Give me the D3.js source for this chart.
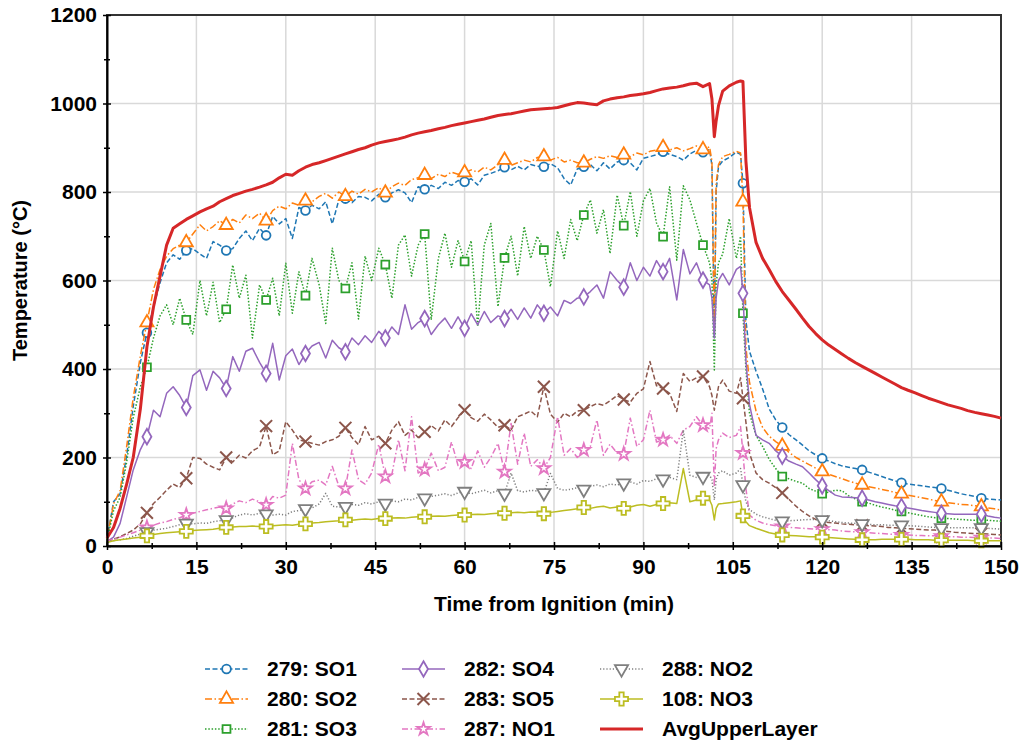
<!DOCTYPE html>
<html>
<head>
<meta charset="utf-8">
<script src="https://cdn.jsdelivr.net/npm/d3@7"></script>
<style>
  body { margin: 0; background: #fff; }
  text { font-family: "Liberation Sans", Arial, sans-serif; font-weight: bold; fill: #000; }
</style>
</head>
<body>
<div id="chart"></div>
<script>
// sample times (min)
var timeMin = [
  0,1.1,2.2,3.3,4.4,5.6,6.7,7.8,8.9,
  10,11.1,12.2,13.3,14.4,15.6,16.7,17.8,18.9,
  20,21.1,22.2,23.3,24.4,25.6,26.7,27.8,28.9,
  30,31.1,32.2,33.3,34.4,35.6,36.7,37.8,38.9,
  40,41.1,42.2,43.3,44.4,45.6,46.7,47.8,48.9,
  50,51.1,52.2,53.3,54.4,55.6,56.7,57.8,58.9,
  60,61.1,62.2,63.3,64.4,65.6,66.7,67.8,68.9,
  70,71.1,72.2,73.3,74.4,75.6,76.7,77.8,78.9,
  80,81.1,82.2,83.3,84.4,85.6,86.7,87.8,88.9,
  90,91.1,92.2,93.3,94.4,95.6,96.7,97.8,98.9,
  100,101.1,101.5,101.9,102.2,102.6,103.3,104.4,105.6,106.3,106.7,107.2,107.8,108.9,
  110,111.1,112.2,113.3,114.4,115.6,116.7,117.8,118.9,
  120,121.1,122.2,123.3,124.4,125.6,126.7,127.8,128.9,
  130,131.1,132.2,133.3,134.4,135.6,136.7,137.8,138.9,
  140,141.1,142.2,143.3,144.4,145.6,146.7,147.8,148.9,
  150
];

// times that carry a marker
var markerTimes = [6.7,13.3,20,26.7,33.3,40,46.7,53.3,60,66.7,73.3,80,86.7,93.3,100,106.7,113.3,120,126.7,133.3,140,146.7];

var so1 = [
  15,100,118,205,315,415,482,540,595,
  640,658,648,668,672,660,650,688,680,
  668,672,695,712,690,718,702,745,728,
  740,695,765,758,770,762,778,728,782,
  785,776,790,788,780,795,788,798,805,
  798,776,812,806,815,808,822,815,826,
  823,830,816,838,842,848,856,850,858,
  850,862,858,857,864,855,830,816,852,
  857,862,848,866,852,868,872,866,850,
  876,880,884,891,885,880,872,886,894,
  890,896,860,470,800,858,870,878,890,885,820,510,440,395,
  355,310,285,268,252,240,228,215,206,
  198,192,186,181,178,175,172,167,162,
  157,152,147,143,140,138,136,134,132,
  130,126,122,118,115,112,108,106,105,
  104
];
var so2 = [
  15,95,125,225,335,430,505,580,625,
  655,672,680,686,705,726,712,722,735,
  725,738,730,748,740,752,735,758,768,
  762,775,770,780,778,790,797,786,800,
  790,802,795,806,800,810,798,812,820,
  815,828,832,838,830,840,835,845,840,
  844,850,845,856,850,862,872,860,866,
  872,868,878,880,872,878,868,872,866,
  866,874,880,876,882,878,884,880,888,
  884,892,895,901,895,900,893,898,904,
  896,902,870,480,820,862,880,885,892,888,778,450,370,305,
  268,248,236,226,212,200,192,184,176,
  168,162,157,152,147,142,138,134,131,
  128,125,121,118,115,112,109,106,103,
  100,98,96,94,93,91,89,86,84,
  81
];
var so3 = [
  12,80,110,190,290,360,404,470,520,
  545,500,560,511,478,600,520,596,505,
  535,635,560,612,470,590,556,605,520,
  639,526,620,566,650,590,503,673,600,
  582,640,513,655,600,673,636,560,680,
  703,610,680,705,511,650,707,630,690,
  643,690,496,680,729,541,651,700,610,
  722,650,700,669,586,712,650,738,690,
  748,782,707,760,661,793,724,801,700,
  780,808,730,699,812,646,814,782,730,
  680,640,600,398,590,640,660,740,650,700,526,400,300,250,
  225,196,175,157,152,146,142,130,124,
  118,122,126,125,114,106,100,97,92,
  88,85,81,78,75,72,69,66,64,
  63,62,61,60,59,58,60,58,57,
  56
];
var so4 = [
  10,20,51,111,172,218,247,307,292,
  345,360,340,313,385,398,352,395,380,
  356,428,395,440,447,415,390,458,375,
  430,445,410,435,452,460,425,465,448,
  439,470,455,475,460,485,470,495,478,
  545,490,505,514,478,500,515,492,518,
  492,525,500,530,505,520,514,535,512,
  538,515,545,526,540,520,555,548,560,
  563,575,590,560,620,600,585,640,600,
  630,610,645,620,650,556,670,615,640,
  601,590,560,470,560,600,616,590,625,632,571,420,320,250,
  240,232,215,203,192,185,179,165,150,
  136,125,115,111,110,109,108,104,100,
  97,94,91,89,86,83,80,78,76,
  74,73,72,72,72,72,72,68,65,
  63
];
var so5 = [
  12,15,21,28,36,50,75,96,110,
  126,140,132,153,200,198,185,178,172,
  200,190,205,199,215,224,271,206,215,
  281,262,240,236,232,228,236,240,248,
  267,245,229,270,240,248,232,262,281,
  250,262,245,258,272,260,285,270,290,
  307,290,282,298,285,268,273,262,292,
  298,305,292,360,298,280,300,292,305,
  307,315,322,318,328,340,331,325,345,
  355,417,362,356,345,304,390,372,380,
  383,360,340,307,330,360,375,350,345,380,334,280,210,165,
  150,142,132,120,106,90,78,68,60,
  55,53,52,50,49,48,47,46,45,
  44,42,41,40,39,38,37,36,36,
  35,33,31,30,29,28,28,27,26,
  25
];
var no1 = [
  12,15,20,25,30,36,42,47,52,
  55,60,64,70,74,78,82,85,88,
  85,95,102,98,106,100,93,112,108,
  115,232,150,130,145,149,138,180,135,
  130,217,150,140,165,230,157,162,240,
  170,292,165,173,210,170,178,235,182,
  190,175,215,178,200,232,168,277,185,
  255,180,195,176,200,292,205,220,200,
  217,225,285,205,230,210,208,289,225,
  240,307,235,240,250,232,262,270,292,
  273,265,300,134,220,240,255,245,250,270,210,130,70,58,
  52,48,46,44,42,41,40,39,38,
  38,37,36,34,33,32,31,30,29,
  28,27,26,25,25,24,24,23,23,
  22,21,21,20,20,19,19,18,18,
  17
];
var no2 = [
  10,12,14,17,22,27,32,36,38,
  40,44,48,51,50,52,51,55,57,
  59,64,70,73,70,74,72,70,72,
  70,78,80,84,86,95,119,90,88,
  89,94,92,98,95,100,96,102,100,
  106,104,110,108,112,115,118,114,120,
  123,118,122,126,120,125,119,165,125,
  122,126,124,120,164,130,126,128,132,
  128,135,138,134,140,138,142,145,140,
  148,146,152,151,155,150,262,160,155,
  157,160,150,104,150,165,170,160,165,175,138,100,82,72,
  66,62,58,56,57,58,59,60,60,
  59,57,55,53,52,51,50,49,48,
  48,47,47,47,46,45,44,43,42,
  41,41,41,41,41,41,41,40,39,
  38
];
var no3 = [
  8,12,14,16,18,20,23,26,28,
  30,31,32,33,35,36,37,38,40,
  42,43,44,44,45,44,44,46,47,
  48,47,49,50,52,53,55,56,57,
  59,58,60,61,60,62,62,63,64,
  63,65,66,66,67,68,67,69,70,
  70,71,72,71,73,74,74,75,76,
  75,77,76,73,76,78,80,82,84,
  87,85,88,90,86,88,85,88,92,
  94,90,94,96,98,96,175,100,104,
  108,104,92,59,85,95,96,98,100,102,68,55,46,40,
  35,30,27,25,24,23,22,21,21,
  20,19,18,17,16,15,14,14,14,
  15,15,15,15,15,14,14,14,13,
  13,13,13,13,13,12,12,12,12,
  12
];
var avgUpper = [
  18,42,85,140,200,310,450,540,610,
  680,718,728,738,746,755,762,768,778,
  785,792,797,802,806,811,816,822,832,
  840,838,848,856,862,866,871,876,881,
  886,891,896,900,906,911,914,917,920,
  924,929,933,936,939,943,946,950,953,
  956,959,962,965,969,973,975,977,980,
  983,986,987,988,989,991,995,999,1002,
  1001,999,997,1006,1010,1013,1015,1018,1020,
  1022,1025,1029,1033,1035,1037,1040,1044,1046,
  1038,1045,1010,925,960,995,1028,1040,1048,1051,1050,870,765,686,
  650,625,598,575,556,535,515,496,480,
  466,454,444,434,424,414,406,398,390,
  382,374,366,358,352,346,340,334,329,
  324,319,315,311,306,302,299,296,293,
  289
];

var seriesNames = ["279: SO1","280: SO2","281: SO3","282: SO4","283: SO5","287: NO1","288: NO2","108: NO3","AvgUpperLayer"];
var xTicks = [0,15,30,45,60,75,90,105,120,135,150];
var yTicks = [0,200,400,600,800,1000,1200];

// drawing styles per series
var styles = [
  { values: so1, color: "#1f77b4", dash: "5,2.5", width: 1.5, symbol: d3.symbolCircle, size: 60 },
  { values: so2, color: "#ff7f0e", dash: "7,2.5,1.5,2.5", width: 1.5, symbol: d3.symbolTriangle, size: 75 },
  { values: so3, color: "#2ca02c", dash: "1.5,1.8", width: 1.5, symbol: d3.symbolSquare, size: 62 },
  { values: so4, color: "#9467bd", dash: null, width: 1.5, symbol: d3.symbolDiamond, size: 70 },
  { values: so5, color: "#8c564b", dash: "5,2.5", width: 1.5, symbol: d3.symbolTimes, size: 95 },
  { values: no1, color: "#e377c2", dash: "6,2.5,1.5,2.5", width: 1.5, symbol: d3.symbolStar, size: 50 },
  { values: no2, color: "#7f7f7f", dash: "1.2,2", width: 1.5, symbol: d3.symbolTriangle, size: 75, flip: true },
  { values: no3, color: "#bcbd22", dash: null, width: 1.5, symbol: d3.symbolCross, size: 95 },
  { values: avgUpper, color: "#d62728", dash: null, width: 3, symbol: null }
];

var margin = { top: 15, right: 21, bottom: 200, left: 107 };
var width = 894, height = 531;

var svg = d3.select("#chart").append("svg")
  .attr("width", 1022)
  .attr("height", 746)
  .append("g")
  .attr("transform", "translate(" + margin.left + "," + margin.top + ")");

var xScale = d3.scaleLinear().domain([0, 150]).range([0, width]);
var yScale = d3.scaleLinear().domain([0, 1200]).range([height, 0]);

// grid
svg.append("g").selectAll("line")
  .data(xTicks.slice(1, -1))
  .enter().append("line")
  .attr("x1", function(d) { return xScale(d); })
  .attr("x2", function(d) { return xScale(d); })
  .attr("y1", 0).attr("y2", height)
  .attr("stroke", "#d9d9d9").attr("stroke-width", 1.5);
svg.append("g").selectAll("line")
  .data(yTicks.slice(1, -1))
  .enter().append("line")
  .attr("y1", function(d) { return yScale(d); })
  .attr("y2", function(d) { return yScale(d); })
  .attr("x1", 0).attr("x2", width)
  .attr("stroke", "#d9d9d9").attr("stroke-width", 1.5);

// frame
svg.append("rect")
  .attr("width", width).attr("height", height)
  .attr("fill", "none").attr("stroke", "#333").attr("stroke-width", 2);

// series
var line = d3.line()
  .x(function(d, i) { return xScale(timeMin[i]); })
  .y(function(d) { return yScale(d); });

styles.forEach(function(s) {
  svg.append("path")
    .datum(s.values)
    .attr("fill", "none")
    .attr("stroke", s.color)
    .attr("stroke-width", s.width)
    .attr("stroke-dasharray", s.dash)
    .attr("stroke-linejoin", "round")
    .attr("d", line);

  if (!s.symbol) return;
  var pts = [];
  s.values.forEach(function(v, i) {
    if (markerTimes.indexOf(timeMin[i]) >= 0) pts.push({ t: timeMin[i], v: v });
  });
  svg.append("g").selectAll("path")
    .data(pts)
    .enter().append("path")
    .attr("d", d3.symbol().type(s.symbol).size(s.size))
    .attr("transform", function(d) {
      return "translate(" + xScale(d.t) + "," + yScale(d.v) + ")" + (s.flip ? " rotate(180)" : "");
    })
    .attr("fill", s.symbol === d3.symbolTimes ? "none" : "#fff")
    .attr("stroke", s.color)
    .attr("stroke-width", s.symbol === d3.symbolTimes ? 2 : 1.8);
});

// axes
var xAxis = svg.append("g")
  .attr("transform", "translate(0," + height + ")")
  .call(d3.axisBottom(xScale).tickValues(xTicks).tickSize(4).tickSizeOuter(0).tickPadding(9));
var yAxis = svg.append("g")
  .call(d3.axisLeft(yScale).tickValues(yTicks).tickFormat(d3.format("d")).tickSize(4).tickSizeOuter(0).tickPadding(6));

[xAxis, yAxis].forEach(function(a) {
  a.select(".domain").attr("stroke", "#000").attr("stroke-width", 2);
  a.selectAll("text").style("font-size", "21px").style("font-family", "'Liberation Sans', Arial, sans-serif").style("font-weight", "bold").attr("fill", "#000");
});
xAxis.selectAll(".tick line").attr("y1", -4).attr("y2", 4).attr("stroke-width", 1.5);
yAxis.selectAll(".tick line").attr("x1", 4).attr("x2", -4).attr("stroke-width", 1.5);

// minor ticks
svg.append("g")
  .attr("transform", "translate(0," + height + ")")
  .call(d3.axisBottom(xScale).tickValues(d3.range(7.5, 150, 15)).tickFormat("").tickSize(3).tickSizeOuter(0))
  .call(function(g) {
    g.select(".domain").remove();
    g.selectAll(".tick line").attr("y1", -3).attr("y2", 3).attr("stroke-width", 1.5);
  });
svg.append("g")
  .call(d3.axisLeft(yScale).tickValues(d3.range(100, 1200, 200)).tickFormat("").tickSize(3).tickSizeOuter(0))
  .call(function(g) {
    g.select(".domain").remove();
    g.selectAll(".tick line").attr("x1", 3).attr("x2", -3).attr("stroke-width", 1.5);
  });

// axis titles
svg.append("text")
  .attr("x", width / 2)
  .attr("y", height + 65)
  .style("text-anchor", "middle")
  .style("font-size", "21px")
  .text("Time from Ignition (min)");

svg.append("text")
  .attr("transform", "rotate(-90)")
  .attr("x", -height / 2)
  .attr("y", -80)
  .style("text-anchor", "middle")
  .style("font-size", "20px")
  .text("Temperature (°C)");

// legend
var legendCols = [205, 402, 600];
var legendRows = [669, 699, 729];
var legend = d3.select("svg").append("g");
styles.forEach(function(s, i) {
  var lx = legendCols[Math.floor(i / 3)];
  var ly = legendRows[i % 3];
  var g = legend.append("g").attr("transform", "translate(" + lx + "," + ly + ")");
  g.append("line")
    .attr("x1", 0).attr("x2", 43)
    .attr("stroke", s.color)
    .attr("stroke-width", s.width)
    .attr("stroke-dasharray", s.dash);
  if (s.symbol) {
    g.append("path")
      .attr("d", d3.symbol().type(s.symbol).size(s.size))
      .attr("transform", "translate(21.5,0)" + (s.flip ? " rotate(180)" : ""))
      .attr("fill", s.symbol === d3.symbolTimes ? "none" : "#fff")
      .attr("stroke", s.color)
      .attr("stroke-width", s.symbol === d3.symbolTimes ? 2 : 1.8);
  }
  g.append("text")
    .attr("x", 62)
    .attr("y", 7)
    .style("font-size", "21px")
    .text(seriesNames[i]);
});
</script>
</body>
</html>
